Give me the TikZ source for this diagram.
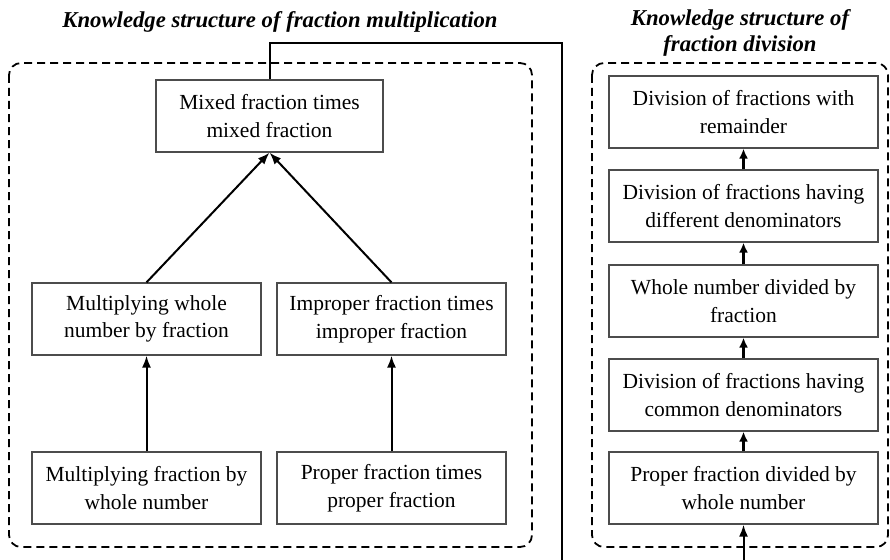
\documentclass[tikz,border=0pt]{standalone}
\usepackage{fontspec}
\setmainfont{Liberation Serif}
\usetikzlibrary{arrows.meta}
\begin{document}
\begin{tikzpicture}[x=1pt,y=-1pt,
  topic/.style={draw=black!70, line width=1.2pt, align=center, inner sep=0pt,
    font=\fontsize{21.5}{27.5}\selectfont, text=black},
  leftbox/.style={topic, minimum width=229pt, minimum height=72pt},
  rightbox/.style={topic, minimum width=269pt, minimum height=72pt},
  group/.style={draw, line width=1.8pt, dash pattern=on 8pt off 5pt, rounded corners=12pt},
  heading/.style={font=\fontsize{22.7}{26.5}\selectfont\bfseries\itshape, align=center, inner sep=0pt},
  link/.style={line width=2pt, -{Latex[length=12pt,width=9pt]}},
  step link/.style={line width=2.6pt, -{Latex[length=10pt,width=9pt]}}
]
\clip (0,0) rectangle (890,559);

% headings
\node[heading] (tmul) at (280,22) {Knowledge structure of fraction multiplication};
\node[heading] (tdiv) at (740,33) {Knowledge structure of\\fraction division};

% dashed groups
\draw[group] (9,63) rectangle (532,547);
\draw[group] (592,63) rectangle (888,547);

% multiplication topics
\node[leftbox, minimum width=227pt] (mixed) at (269.5,116) {Mixed fraction times\\mixed fraction};
\node[leftbox] (mwhole) at (146.5,319) {Multiplying whole\\number by fraction};
\node[leftbox] (improper) at (391.5,319) {Improper fraction times\\improper fraction};
\node[leftbox] (mfrac) at (146.5,488) {Multiplying fraction by\\whole number};
\node[leftbox] (proper) at (391.5,488) {Proper fraction times\\proper fraction};

% division topics
\node[rightbox] (d5) at (743.5,112) {Division of fractions with\\remainder};
\node[rightbox] (d4) at (743.5,206) {Division of fractions having\\different denominators};
\node[rightbox] (d3) at (743.5,301) {Whole number divided by\\fraction};
\node[rightbox] (d2) at (743.5,395) {Division of fractions having\\common denominators};
\node[rightbox] (d1) at (743.5,488) {Proper fraction divided by\\whole number};

% multiplication links
\coordinate (apex) at (mixed.south);
\draw[link] (mwhole.north) -- (apex);
\draw[link] (improper.north) -- (apex);
\draw[link] (mfrac.north) -- (mwhole.south);
\draw[link] (proper.north) -- (improper.south);

% division links
\draw[step link] (d1.north) -- (d2.south);
\draw[step link] (d2.north) -- (d3.south);
\draw[step link] (d3.north) -- (d4.south);
\draw[step link] (d4.north) -- (d5.south);

% from multiplication into division
\coordinate (c1) at (269.5,43);
\coordinate (c2) at (562,43);
\coordinate (c3) at (562,585);
\coordinate (c4) at (743.5,585);
\draw[line width=2pt, -{Latex[length=12pt,width=9pt]}]
  (mixed.north) -- (c1) -- (c2) -- (c3) -- (c4) -- (d1.south);
\end{tikzpicture}
\end{document}
